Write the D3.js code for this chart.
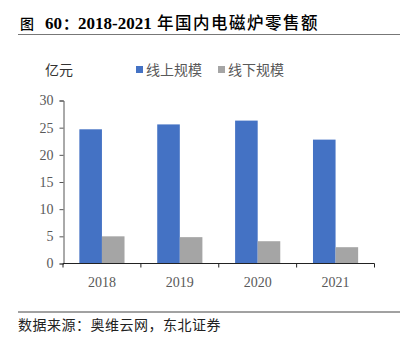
<!DOCTYPE html>
<html><head><meta charset="utf-8">
<script src="https://cdn.jsdelivr.net/npm/d3@7/dist/d3.min.js"></script>
<style>body{margin:0;background:#fff}svg{display:block}</style>
</head><body>
<svg id="c" width="402" height="343"></svg>
<script>
const categories = ["2018", "2019", "2020", "2021"];
const seriesNames = ["线上规模", "线下规模"];
const onlineValues = [24.7, 25.6, 26.3, 22.8];
const offlineValues = [5.0, 4.85, 4.1, 3.0];
const yTicks = [0, 5, 10, 15, 20, 25, 30];
const colors = ["#4472C4", "#A5A5A5"];

const svg = d3.select("#c");
const serif = "'Liberation Serif','Times New Roman',serif";
const cjk = "'Noto Sans CJK SC','Noto Sans',sans-serif";

// Title (pieces positioned to match the reference spacing)
const titleParts = [
  {t: "图", x: 20, font: cjk, size: 14, w: 500},
  {t: "60", x: 45, font: serif, size: 17, w: "bold"},
  {t: "：", x: 63, font: cjk, size: 15, w: 700},
  {t: "2018-2021", x: 78, font: serif, size: 17, w: "bold"},
  {t: "年国内电磁炉零售额", x: 157, font: cjk, size: 16.5, w: 500, ls: 1.5}
];
titleParts.forEach(p => {
  svg.append("text").attr("x", p.x).attr("y", 28.5)
    .attr("font-family", p.font).attr("font-weight", p.w)
    .attr("font-size", p.size).attr("fill", "#000")
    .attr("letter-spacing", p.ls || 0)
    .text(p.t);
});
svg.append("line").attr("x1", 18).attr("x2", 400).attr("y1", 34.5).attr("y2", 34.5)
  .attr("stroke", "#777").attr("stroke-width", 1.2);

// Scales
const x0 = d3.scaleBand().domain(categories).range([63, 374.5]).paddingInner(0.42).paddingOuter(0.21);
const x1 = d3.scaleBand().domain(seriesNames).range([0, x0.bandwidth()]);
const y = d3.scaleLinear().domain([0, 30]).range([263.5, 100.5]);

// Bars
const data = categories.map((c, i) => ({c, vals: [onlineValues[i], offlineValues[i]]}));
const g = svg.append("g");
data.forEach(d => {
  d.vals.forEach((v, j) => {
    g.append("rect")
      .attr("x", x0(d.c) + x1(seriesNames[j]))
      .attr("y", y(v))
      .attr("width", x1.bandwidth())
      .attr("height", y(0) - y(v))
      .attr("fill", colors[j]);
  });
});

// Y axis
const yAxis = d3.axisLeft(y).tickValues(yTicks).tickSize(4).tickPadding(6);
const ya = svg.append("g").attr("transform", "translate(63.5,0)").call(yAxis);
ya.select(".domain").attr("stroke", "#555");
ya.selectAll(".tick line").attr("stroke", "#555");
ya.selectAll("text").attr("font-family", serif).attr("font-size", 14).attr("fill", "#595959");

// X axis
const xa = svg.append("g").attr("transform", "translate(0,263.5)");
xa.append("line").attr("x1", 63).attr("x2", 374.5).attr("y1", 0).attr("y2", 0).attr("stroke", "#222");
const bounds = categories.map(c => x0(c) - x0.step() * x0.paddingOuter()).concat([374.5]);
xa.selectAll(".tk").data(bounds).enter().append("line")
  .attr("x1", d => d).attr("x2", d => d).attr("y1", 0).attr("y2", 4).attr("stroke", "#222");
xa.selectAll(".lbl").data(categories).enter().append("text")
  .attr("x", d => x0(d) + x0.bandwidth() / 2).attr("y", 23)
  .attr("text-anchor", "middle").attr("font-family", serif).attr("font-size", 14)
  .attr("fill", "#595959").text(d => d);

// Unit label
svg.append("text").attr("x", 45).attr("y", 75).attr("font-family", cjk)
  .attr("font-size", 14).attr("fill", "#333").text("亿元");

// Legend
const legX = [136, 218];
seriesNames.forEach((s, i) => {
  svg.append("rect").attr("x", legX[i]).attr("y", 66).attr("width", 7).attr("height", 7).attr("fill", colors[i]);
  svg.append("text").attr("x", legX[i] + 10).attr("y", 75).attr("font-family", cjk)
    .attr("font-size", 14).attr("fill", "#595959").text(s);
});

// Footer
svg.append("line").attr("x1", 18).attr("x2", 400).attr("y1", 312).attr("y2", 312)
  .attr("stroke", "#444").attr("stroke-width", 1);
svg.append("text").attr("x", 18).attr("y", 330).attr("font-family", cjk)
  .attr("font-size", 14).attr("fill", "#222").attr("letter-spacing", 0.5)
  .text("数据来源：奥维云网，东北证券");
</script>
</body></html>
